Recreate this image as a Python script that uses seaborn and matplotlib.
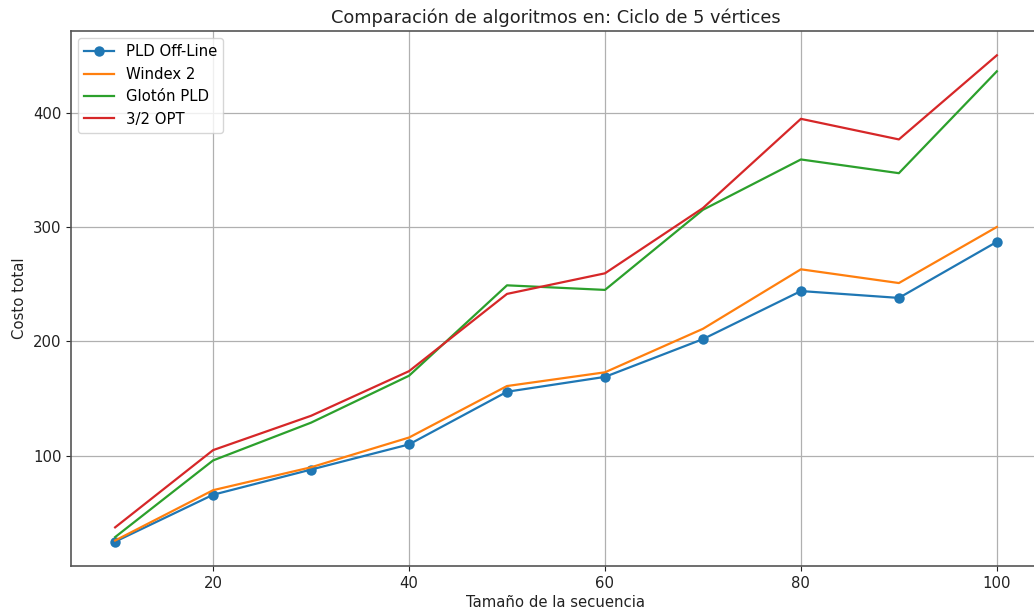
import matplotlib
matplotlib.use("Agg")
import matplotlib.pyplot as plt
import seaborn as sns
import pandas as pd

# Sequence sizes and total cost per algorithm
tamanos = [10, 20, 30, 40, 50, 60, 70, 80, 90, 100]
pld_offline = [25, 66, 88, 110, 156, 169, 202, 244, 238, 287]
windex_2 = [26, 70, 90, 116, 161, 173, 211, 263, 251, 300]
gloton_pld = [29, 96, 129, 170, 249, 245, 315, 359, 347, 436]
opt_3_2 = [37.5, 105, 135, 174, 241.5, 259.5, 316.5, 394.5, 376.5, 450]

series = [
    ("PLD Off-Line", pld_offline, "#1f77b4", "o"),
    ("Windex 2", windex_2, "#ff7f0e", None),
    ("Glotón PLD", gloton_pld, "#2ca02c", None),
    ("3/2 OPT", opt_3_2, "#d62728", None),
]

plt.rcParams["font.family"] = ["DejaVu Sans"]

fig = plt.figure(figsize=(10.34, 6.15), dpi=100)
ax = fig.add_axes([0.0687, 0.0797, 0.938, 0.8699])

for nombre, valores, color, marcador in series:
    df = pd.DataFrame({"x": tamanos, "y": valores})
    kw = dict(marker=marcador, markersize=7.5, markeredgewidth=0) if marcador else {}
    sns.lineplot(data=df, x="x", y="y", ax=ax, color=color, label=nombre,
                 linewidth=1.6, **kw)

ax.set_xlim(5.5, 104.5)
ax.set_ylim(3.75, 471.25)
ax.set_xticks([20, 40, 60, 80, 100])
ax.set_yticks([100, 200, 300, 400])
ax.grid(True, color="#b0b0b0", linewidth=0.9)
ax.set_axisbelow(True)
for s in ax.spines.values():
    s.set_color("#555555")
    s.set_linewidth(1.2)
ax.spines["right"].set_visible(False)
ax.tick_params(colors="#222222", labelsize=10.7)

ax.set_title("Comparación de algoritmos en: Ciclo de 5 vértices", fontsize=12.8, color="#222222")
ax.set_xlabel("Tamaño de la secuencia", fontsize=10.7, color="#222222", labelpad=3)
ax.set_ylabel("Costo total", fontsize=10.7, color="#222222")
ax.legend(loc="upper left", fontsize=10.7)

fig.savefig("out.png", dpi=100)
